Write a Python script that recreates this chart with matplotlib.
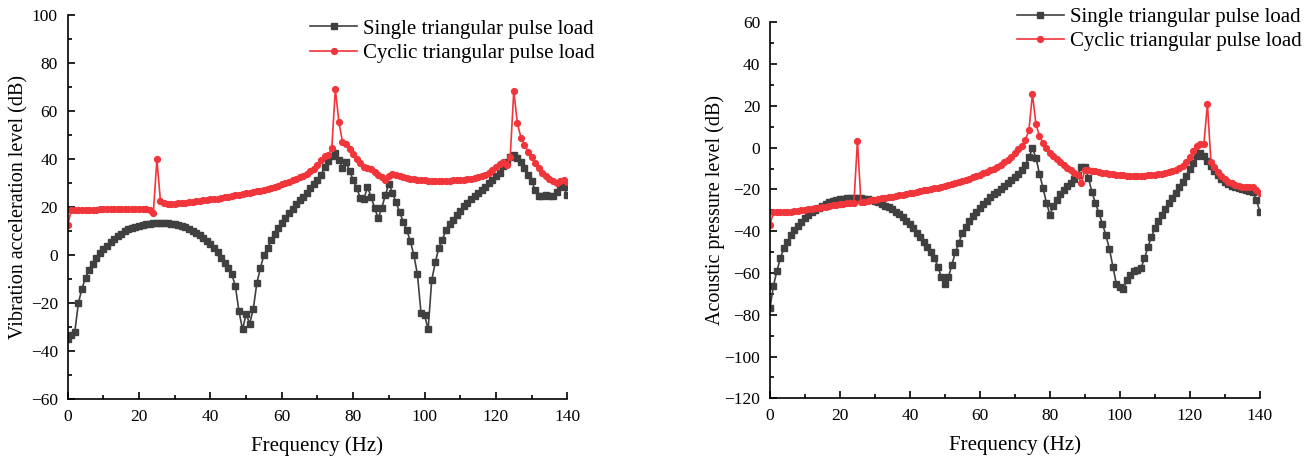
import numpy as np
import matplotlib.pyplot as plt

plt.rcParams['font.family'] = ['Liberation Serif', 'DejaVu Serif']
plt.rcParams['mathtext.fontset'] = 'stix'

# --- data (1 Hz steps) ---
freq = np.arange(0, 141, 1)

vib_single = [
    -35, -33.5, -32, -20, -14, -9.5, -6, -3.5, -1.3, 0.8,
    2.5, 4, 5.3, 6.7, 7.8, 8.9, 9.9, 10.7, 11.4, 11.9,
    12.3, 12.6, 12.9, 13, 13.2, 13.3, 13.3, 13.3, 13.2, 13,
    12.9, 12.6, 12.2, 11.6, 10.9, 10.2, 9.4, 8.3, 7.2, 5.9,
    4.5, 2.9, 1.1, -1, -3.3, -5.4, -8, -13, -23.5, -31,
    -24.5, -28.6, -22.5, -11.7, -5.4, 0.1, 2.9, 6.1, 8.7, 11.2,
    13.6, 15.4, 17.5, 19.3, 21.2, 23, 24.4, 26.1, 27.9, 29.7,
    31.4, 33.5, 36.7, 39.4, 41.4, 42.5, 39.7, 36.5, 39, 35,
    31.4, 28, 23.7, 23.5, 28.3, 24.4, 19.6, 15.4, 19.6, 25,
    29.7, 26, 22, 18, 14, 10.3, 6, 0, -8, -24,
    -25, -31, -10.5, -3, 3, 6.5, 10.3, 13, 14.7, 16.8,
    18.5, 20.3, 21.7, 23.3, 24.7, 26, 27.2, 28.6, 30, 31.4,
    33, 34.4, 37, 38.7, 41, 41.8, 40.4, 38.7, 36.2, 33.6,
    30.7, 27.2, 24.7, 24.5, 25, 24.5, 24.5, 26.5, 29.3, 28.5,
    25,
]

vib_cyclic = [
    12.5, 18.7, 18.9, 18.9, 19.0, 19.0, 19.0, 19.0, 19.0, 19.1,
    19.1, 19.1, 19.1, 19.2, 19.2, 19.2, 19.2, 19.3, 19.3, 19.3,
    19.3, 19.2, 19.1, 18.8, 17.5, 40.0, 22.4, 21.8, 21.5, 21.4,
    21.5, 21.6, 21.7, 21.9, 22.0, 22.2, 22.4, 22.6, 22.8, 23.0,
    23.2, 23.4, 23.6, 23.9, 24.1, 24.4, 24.6, 24.9, 25.1, 25.4,
    25.7, 26.0, 26.3, 26.6, 26.9, 27.2, 27.6, 28.0, 28.5, 29.0,
    29.5, 30.1, 30.6, 31.2, 31.8, 32.5, 33.2, 34.0, 35.0, 36.1,
    37.5, 39.5, 41.5, 41.6, 44.7, 69.2, 55.4, 47.3, 46.4, 44.2,
    42.2, 40.1, 38.5, 36.9, 36.5, 35.8, 34.8, 33.5, 32.7, 31.4,
    33.2, 33.8, 33.3, 32.8, 32.4, 32.0, 31.8, 31.6, 31.4, 31.3,
    31.2, 31.1, 31.1, 31.1, 31.1, 31.1, 31.1, 31.1, 31.2, 31.3,
    31.4, 31.5, 31.7, 31.9, 32.2, 32.5, 33.0, 33.6, 34.4, 35.4,
    36.6, 38.0, 39.0, 37.5, 41.0, 68.5, 55.0, 49.0, 46.0, 43.2,
    41.1, 38.3, 36.2, 34.3, 32.8, 31.7, 30.8, 30.1, 30.8, 31.4,
    30.3,
]

acou_single = [
    -77, -66, -59, -52.7, -48.2, -45, -41.8, -39.4, -37.5, -35.4,
    -33.8, -32.2, -31, -29.9, -28.8, -27.8, -27, -26.2, -25.6, -25.1,
    -24.8, -24.5, -24.3, -24.1, -24.1, -24.1, -24.3, -24.5, -24.8, -25.1,
    -25.6, -26.2, -26.9, -27.7, -28.6, -29.6, -30.7, -32, -33.4, -35,
    -36.7, -38.6, -40.7, -42.9, -45, -47.5, -50, -53, -57, -62,
    -65.5, -62, -56, -50, -45.5, -40.7, -37.8, -35.1, -32.7, -30.7,
    -28.7, -27, -25.4, -23.8, -22.4, -21.1, -19.7, -18.4, -17.1, -15.5,
    -14.2, -12.6, -10.7, -8.3, -4.6, -0.3, -4.8, -12.5, -19.1, -26.4,
    -32.2, -27.9, -25, -22.1, -20.1, -18.4, -16.8, -15.1, -13, -9.1,
    -9.1, -14.5, -21.3, -26.5, -31.4, -36.4, -42, -48.5, -57, -65.5,
    -66.7, -67.8, -63.4, -60.8, -59.2, -58.6, -57.8, -53, -47.7, -42.6,
    -38.6, -35.1, -32.2, -29.5, -26.6, -24.3, -21.6, -19, -16.3, -13.6,
    -10.4, -7.2, -4, -2.4, -4, -6.4, -8.8, -11, -13.1, -14.9,
    -16.3, -17.4, -18.4, -19, -19.5, -19.9, -20.2, -20.6, -21.2, -25.1,
    -30.7,
]

acou_cyclic = [
    -37, -31, -31, -30.9, -30.8, -30.7, -30.6, -30.4, -30.2, -30,
    -29.7, -29.5, -29.2, -29, -28.7, -28.4, -28.2, -27.9, -27.6, -27.3,
    -27.1, -26.9, -26.7, -26.5, -26.3, 3.3, -26.2, -25.8, -25.5, -25.2,
    -24.9, -24.6, -24.3, -24, -23.7, -23.4, -23.1, -22.8, -22.5, -22.2,
    -21.9, -21.6, -21.2, -20.9, -20.5, -20.2, -19.8, -19.5, -19.2, -18.8,
    -18.4, -18.0, -17.5, -17.0, -16.5, -16.0, -15.4, -14.8, -14.2, -13.6,
    -13.0, -12.3, -11.6, -10.8, -10.0, -9.1, -8.1, -7.0, -5.8, -4.3,
    -2.6, -0.8, 1.0, 3.7, 8.4, 25.7, 11.3, 5.6, 2.4, -0.3,
    -2.4, -4, -5.6, -6.9, -8.3, -9.6, -10.7, -12, -13.1, -17.1,
    -10.5, -10.8, -11.1, -11.4, -11.7, -12.0, -12.3, -12.6, -12.8, -13.0,
    -13.2, -13.3, -13.4, -13.5, -13.5, -13.5, -13.5, -13.4, -13.3, -13.2,
    -13.0, -12.8, -12.5, -12.1, -11.7, -11.2, -10.6, -9.8, -8.7, -7.0,
    -4.5, -1.5, 0.9, 1.7, 1.7, 21.0, -6.7, -9.4, -11.5, -13.6,
    -15.2, -16.3, -17.1, -17.9, -18.4, -18.7, -18.9, -19.0, -19.0, -20.3,
    -21.9,
]

GREY = '#404040'
RED = '#f0353b'


def style_axis(ax, ylim, yticks):
    """Origin-like axes: only left/bottom spines, ticks inward"""
    ax.spines['top'].set_visible(False)
    ax.spines['right'].set_visible(False)
    for s in ('left', 'bottom'):
        ax.spines[s].set_linewidth(1.2)
    ax.set_xlim(0, 140)
    ax.set_ylim(*ylim)
    ax.set_xticks(np.arange(0, 141, 20))
    ax.set_xticks(np.arange(10, 140, 20), minor=True)
    ax.set_yticks(yticks)
    ax.set_yticks(np.arange(ylim[0] + 10, ylim[1], 20), minor=True)
    ax.tick_params(which='major', direction='in', length=5, width=1.2,
                   labelsize=12.5, pad=7)
    ax.tick_params(which='minor', direction='in', length=3, width=1.2)
    ax.set_xlabel('Frequency (Hz)', fontsize=15)
    ax.xaxis.set_label_coords(0.5, -0.098)


fig = plt.figure(figsize=(13.09, 4.57), dpi=100)
ax1 = fig.add_axes([0.0517, 0.1269, 0.3817, 0.8396])
ax2 = fig.add_axes([0.5882, 0.1284, 0.3743, 0.8228])

for ax, single, cyclic in ((ax1, vib_single, vib_cyclic), (ax2, acou_single, acou_cyclic)):
    ax.plot(freq, single, color=GREY, lw=1.2, marker='s', ms=3.8,
            label='Single triangular pulse load')
    ax.plot(freq, cyclic, color=RED, lw=1.2, marker='o', ms=4.2,
            label='Cyclic triangular pulse load')

legend_kw = dict(loc='upper left', frameon=False, fontsize=15, handlelength=2.26,
                 handletextpad=0.29, labelspacing=0.23, borderpad=0,
                 borderaxespad=0, numpoints=1)

style_axis(ax1, (-60, 100), np.arange(-60, 101, 20))
ax1.set_ylabel('Vibration acceleration level (dB)', fontsize=14.5)
ax1.yaxis.set_label_coords(-0.079, 0.5)
ax1.legend(bbox_to_anchor=(0.485, 0.99), **legend_kw)

style_axis(ax2, (-120, 60), np.arange(-120, 61, 20))
ax2.set_ylabel('Acoustic pressure level (dB)', fontsize=14.5)
ax2.yaxis.set_label_coords(-0.092, 0.5)
ax2.legend(bbox_to_anchor=(0.504, 1.04), **legend_kw)

fig.savefig('out.png', dpi=100)
